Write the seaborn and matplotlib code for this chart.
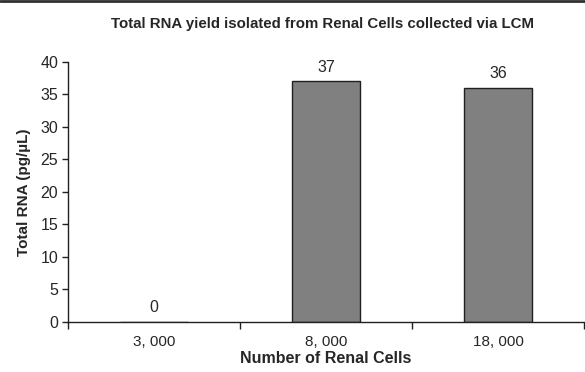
import matplotlib
matplotlib.use('Agg')
import matplotlib.pyplot as plt
from matplotlib.lines import Line2D
import seaborn as sns
import pandas as pd

# data
cells = ['3, 000', '8, 000', '18, 000']
rna = [0, 37, 36]

df = pd.DataFrame({'cells': cells, 'rna': rna})

sns.set_style('white')
plt.rcParams['font.family'] = ['Liberation Sans Narrow', 'Liberation Sans', 'DejaVu Sans']

fig = plt.figure(figsize=(5.85, 3.72), dpi=100)
ax = fig.add_axes([0.1162, 0.1344, 0.882, 0.699])

sns.barplot(data=df, x='cells', y='rna', color='#808080', saturation=1,
            edgecolor='#202020', linewidth=1, width=0.4, ax=ax)

for c in ax.containers:
    ax.bar_label(c, padding=5, fontsize=11.5)

ax.set_xlim(-0.5, 2.5)
ax.set_ylim(0, 40)
ax.set_yticks(range(0, 41, 5))
ax.tick_params(axis='y', labelsize=11.5, length=4, width=1, color='#202020', left=True, pad=3)

# ticks between categories, labels at centres
ax.set_xticks([-0.5, 0.5, 1.5, 2.5])
ax.set_xticklabels([])
ax.set_xticks([0, 1, 2], minor=True)
ax.set_xticklabels(cells, minor=True, fontsize=11)
ax.tick_params(axis='x', which='major', length=5, width=1, color='#202020', bottom=True)
ax.tick_params(axis='x', which='minor', length=0, pad=9)

for s in ['top', 'right']:
    ax.spines[s].set_visible(False)
for s in ['left', 'bottom']:
    ax.spines[s].set_color('#202020')
    ax.spines[s].set_linewidth(1)

ax.set_xlabel('Number of Renal Cells', fontsize=11.5, fontweight='bold', labelpad=2)
ax.set_ylabel('Total RNA (pg/\u00b5L)', fontsize=11, fontweight='bold', labelpad=7)
fig.suptitle('Total RNA yield isolated from Renal Cells collected via LCM',
             x=0.552, y=0.955, fontsize=10.8, fontweight='bold')

fig.add_artist(Line2D([0, 1], [0.997, 0.997], color='#303030', linewidth=2,
                      transform=fig.transFigure))

fig.savefig('out.png', dpi=100)
